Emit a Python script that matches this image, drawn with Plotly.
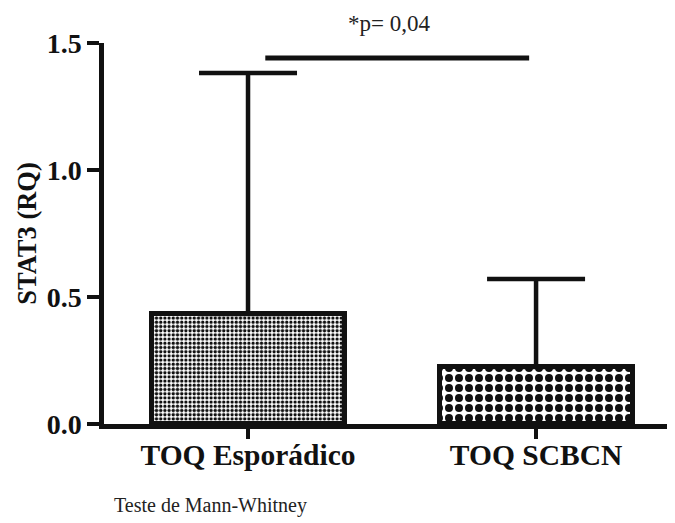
import plotly.graph_objects as go

categories = ["TOQ Esporádico", "TOQ SCBCN"]
means = [0.433, 0.224]
upper = [1.382, 0.571]
y_ticks = [0.0, 0.5, 1.0, 1.5]
y_tick_labels = ["0.0", "0.5", "1.0", "1.5"]
sig_x = [0.06, 0.976]
sig_y = 1.441
sig_text = "*p= 0,04"
note_text = "Teste de Mann-Whitney"
y_title = "STAT3 (RQ)"

pattern_sizes = [4.2, 10]

err_plus = [u - m for u, m in zip(upper, means)]
xs = list(range(len(categories)))

fig = go.Figure()
for i in xs:
    fig.add_trace(go.Bar(
        x=[i], y=[means[i]], width=0.67,
        marker=dict(
            color="white",
            line=dict(color="#111111", width=5),
            pattern=dict(shape=".", fgcolor="#111111", bgcolor="white",
                         size=pattern_sizes[i], solidity=0.5, fillmode="replace"),
        ),
        error_y=dict(type="data", symmetric=False, array=[err_plus[i]], arrayminus=[0],
                     color="#111111", thickness=4.5, width=49),
        showlegend=False,
    ))

fig.add_shape(type="line", xref="x", yref="y", x0=sig_x[0], x1=sig_x[1], y0=sig_y, y1=sig_y,
              line=dict(color="#111111", width=5))

fig.add_annotation(x=0.49, y=1.0905, xref="x", yref="paper", xanchor="center", yanchor="top",
                   text=sig_text, showarrow=False,
                   font=dict(family="Liberation Serif", size=23, color="#222222"))
fig.add_annotation(x=0.014, y=-0.213, xref="paper", yref="paper", xanchor="left", yanchor="middle",
                   text=note_text, showarrow=False,
                   font=dict(family="Liberation Serif", size=20, color="#222222"))

fig.update_layout(
    width=675, height=523,
    margin=dict(l=96, r=13, t=35, b=107, autoexpand=False),
    paper_bgcolor="white", plot_bgcolor="white",
    bargap=0,
    xaxis=dict(range=[-0.5, 1.465], tickvals=xs, ticktext=[f"<b>{c}</b>" for c in categories],
               automargin=False,
               showline=True, linecolor="#111111", linewidth=4.5,
               ticks="outside", ticklen=10, tickwidth=4, tickcolor="#111111",
               ticklabelstandoff=-9,
               showgrid=False, zeroline=False,
               tickfont=dict(family="Liberation Serif", size=29.5, color="#111111")),
    yaxis=dict(range=[0, 1.5], tickvals=y_ticks, ticktext=[f"<b>{t}</b>" for t in y_tick_labels],
               automargin=False,
               showline=True, linecolor="#111111", linewidth=4.5,
               ticks="outside", ticklen=12, tickwidth=4, tickcolor="#111111",
               showgrid=False, zeroline=False,
               title=dict(text=f"<b>{y_title}</b>", standoff=4,
                          font=dict(family="Liberation Serif", size=26.5, color="#111111")),
               tickfont=dict(family="Liberation Serif", size=28, color="#111111")),
)

fig.write_html("out.html")
